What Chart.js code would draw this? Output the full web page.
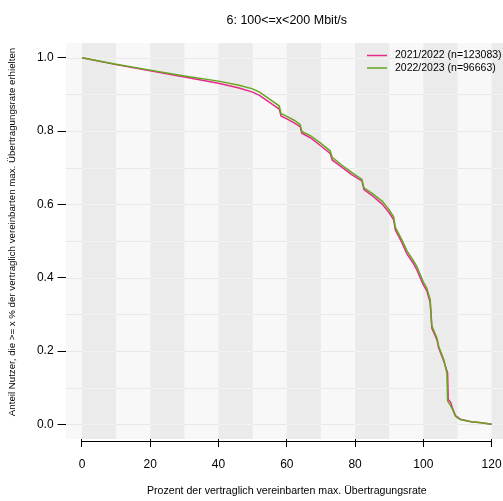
<!DOCTYPE html>
<html><head><meta charset="utf-8">
<script src="https://cdn.jsdelivr.net/npm/chart.js@4.4.0/dist/chart.umd.min.js"></script>
<style>html,body{margin:0;padding:0;overflow:hidden;background:#fff;width:503px;height:501px}</style>
</head><body>
<canvas id="c" width="508" height="501" style="width:508px;height:501px;display:block"></canvas>
<script>
const chartTitle = "6: 100<=x<200 Mbit/s";
const xTitle = "Prozent der vertraglich vereinbarten max. Übertragungsrate";
const yTitle = "Anteil Nutzer, die >= x % der vertraglich vereinbarten max. Übertragungsrate erhielten";
const seriesLabels = ["2021/2022 (n=123083)", "2022/2023 (n=96663)"];

const x2122 = [0,10,20,30,40,46,50,52,54,56,57.8,58.3,60,62,63.9,64.4,67,70,72.7,73.3,76,79,82,82.6,85,88,90,91.3,91.8,93.7,95.2,97,98.1,100,101,102,102.5,104,104.5,106,107.1,107.3,108,108.5,109.4,110.8,114,117,120];
const y2122 = [1.0,0.981,0.964,0.947,0.930,0.917,0.906,0.897,0.884,0.871,0.860,0.841,0.833,0.823,0.812,0.794,0.781,0.759,0.739,0.721,0.702,0.681,0.664,0.640,0.624,0.600,0.577,0.558,0.530,0.496,0.465,0.440,0.421,0.380,0.365,0.332,0.262,0.230,0.208,0.172,0.140,0.068,0.060,0.045,0.024,0.014,0.007,0.004,0.0];

const x2223 = [0,10,20,30,40,46,50,52,54,56,57.8,58.3,60,62,63.9,64.4,67,70,72.7,73.3,76,79,82,82.6,85,88,90,91.3,91.8,93.7,95.2,97,98.1,100,101,102,102.5,104,104.5,106,106.9,107.1,108.4,109.4,110.8,114,117,120];
const y2223 = [1.0,0.982,0.966,0.950,0.936,0.925,0.915,0.906,0.893,0.880,0.868,0.848,0.840,0.830,0.818,0.799,0.787,0.766,0.746,0.728,0.708,0.687,0.668,0.645,0.630,0.608,0.585,0.566,0.537,0.503,0.473,0.448,0.430,0.388,0.372,0.340,0.268,0.235,0.212,0.176,0.140,0.064,0.044,0.022,0.013,0.007,0.004,0.0];

const xTicks = [0,20,40,60,80,100,120];
const yTicks = [0,0.2,0.4,0.6,0.8,1.0];
const yGrid = [0,0.1,0.2,0.3,0.4,0.5,0.6,0.7,0.8,0.9,1.0];
const darkBands = [[0,10],[20,30],[40,50],[60,70],[80,90],[100,110],[120,130]];

const COLORS = {red:'#e7298a', green:'#66a61e', light:'#f8f8f8', dark:'#ebebeb', gridL:'#e8e8e8', gridD:'#f2f2f2'};
const FONT = '"Liberation Sans", Arial, Helvetica, sans-serif';

function pts(xs, ys){ return xs.map((x,i)=>({x:x, y:ys[i]})); }

const bgPlugin = {
  id:'bg',
  beforeDraw(chart){
    const {ctx, chartArea:a, scales:{x, y}} = chart;
    ctx.save();
    ctx.beginPath(); ctx.rect(a.left, a.top, a.right-a.left, a.bottom-a.top); ctx.clip();
    ctx.fillStyle = COLORS.light;
    ctx.fillRect(a.left, a.top, a.right-a.left, a.bottom-a.top);
    ctx.strokeStyle = COLORS.gridL; ctx.lineWidth = 1;
    yGrid.forEach(v=>{ const py = Math.round(y.getPixelForValue(v))+0.5; ctx.beginPath(); ctx.moveTo(a.left,py); ctx.lineTo(a.right,py); ctx.stroke(); });
    darkBands.forEach(b=>{
      const x0 = x.getPixelForValue(b[0]), x1 = x.getPixelForValue(b[1]);
      ctx.fillStyle = COLORS.dark;
      ctx.fillRect(x0, a.top, x1-x0, a.bottom-a.top);
      ctx.strokeStyle = COLORS.gridD;
      yGrid.forEach(v=>{ const py = Math.round(y.getPixelForValue(v))+0.5; ctx.beginPath(); ctx.moveTo(x0,py); ctx.lineTo(x1,py); ctx.stroke(); });
    });
    ctx.restore();
  },
  afterDraw(chart){
    const {ctx, chartArea:a, scales:{x, y}} = chart;
    ctx.save();
    ctx.strokeStyle = '#000'; ctx.lineWidth = 1;
    const ly = a.bottom + 2.5;
    ctx.beginPath(); ctx.moveTo(x.getPixelForValue(xTicks[0]), ly); ctx.lineTo(x.getPixelForValue(xTicks[xTicks.length-1]), ly); ctx.stroke();
    ctx.fillStyle = '#000';
    ctx.textAlign = 'center'; ctx.textBaseline = 'middle';
    ctx.font = '12.5px ' + FONT;
    ctx.fillText(chartTitle, (a.left + a.right)/2, 21);
    ctx.font = '10.6px ' + FONT;
    ctx.fillText(xTitle, (a.left + a.right)/2, 491);
    ctx.save();
    ctx.translate(12.5, 232); ctx.rotate(-Math.PI/2);
    ctx.font = '9.7px ' + FONT;
    ctx.fillText(yTitle, 0, 0);
    ctx.restore();
    const lx0 = 367, lx1 = 387, tx = 395;
    const rows = [55.5, 68];
    const cols = [COLORS.red, COLORS.green];
    ctx.font = '10.5px ' + FONT; ctx.textAlign = 'left';
    rows.forEach((ry,i)=>{
      ctx.strokeStyle = cols[i]; ctx.lineWidth = 1.5;
      ctx.beginPath(); ctx.moveTo(lx0, ry); ctx.lineTo(lx1, ry); ctx.stroke();
      ctx.fillStyle = '#000';
      ctx.fillText(seriesLabels[i], tx, ry);
    });
    ctx.restore();
  }
};

new Chart(document.getElementById('c'), {
  type:'scatter',
  data:{
    datasets:[
      {label:seriesLabels[0], data:pts(x2122,y2122), showLine:true, borderColor:COLORS.red, backgroundColor:COLORS.red, borderWidth:1.5, pointRadius:0, tension:0, order:2},
      {label:seriesLabels[1], data:pts(x2223,y2223), showLine:true, borderColor:COLORS.green, backgroundColor:COLORS.green, borderWidth:1.5, pointRadius:0, tension:0, order:1}
    ]
  },
  options:{
    responsive:false, animation:false, devicePixelRatio:1,
    layout:{padding:{top:43,left:0,right:0,bottom:0}},
    plugins:{legend:{display:false}, tooltip:{enabled:false}, title:{display:false}},
    scales:{
      x:{type:'linear', min:-4.8, max:124.8,
        afterBuildTicks:s=>{ s.ticks = xTicks.map(v=>({value:v})); },
        afterFit:s=>{ s.height = 62; s.paddingLeft = 0; s.paddingRight = 0; },
        grid:{drawOnChartArea:false, drawTicks:true, tickLength:8, color:'#000', tickColor:'#000', lineWidth:1},
        border:{display:false},
        ticks:{autoSkip:false, maxRotation:0, padding:10, color:'#000', font:{family:FONT, size:12}, callback:v=>String(v)}
      },
      y:{type:'linear', min:-0.04, max:1.04,
        afterBuildTicks:s=>{ s.ticks = yTicks.map(v=>({value:v})); },
        afterFit:s=>{ s.width = 65.6; s.paddingTop = 0; s.paddingBottom = 0; },
        grid:{drawOnChartArea:false, drawTicks:true, tickLength:8, color:'#000', tickColor:'#000', lineWidth:1},
        border:{display:false},
        ticks:{autoSkip:false, padding:4, color:'#000', font:{family:FONT, size:12}, callback:v=>Number(v).toFixed(1)}
      }
    }
  },
  plugins:[bgPlugin]
});
</script>
</body></html>
